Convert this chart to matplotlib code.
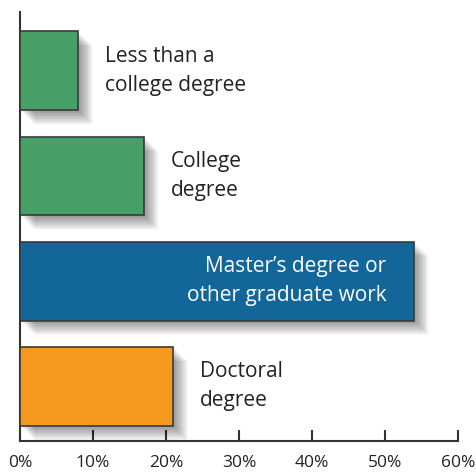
import matplotlib
matplotlib.use("Agg")
import matplotlib.pyplot as plt
import matplotlib.patheffects as pe
from matplotlib.ticker import FuncFormatter

categories = ["Less than a\ncollege degree", "College\ndegree",
              "Master\u2019s degree or\nother graduate work", "Doctoral\ndegree"]
values = [8, 17, 54, 21]
colors = ["#46a067", "#46a067", "#12669a", "#f7981f"]
xticks = [0, 10, 20, 30, 40, 50, 60]

plt.rcParams['font.family'] = ['Open Sans', 'DejaVu Sans']

fig = plt.figure(figsize=(4.77, 4.75), dpi=100)
ax = fig.add_axes([20/477, 34/475, 438/477, 429/475])

shadow = []
for k in range(1, 20):
    shadow.append(pe.SimplePatchShadow(offset=(k * 0.55, -k * 0.55), shadow_rgbFace='black', alpha=0.022))
shadow.append(pe.Normal())

ypos = list(range(len(values)))
bars = ax.barh(ypos, values, height=0.75, color=colors, edgecolor='#3a3a3a', linewidth=1.2, zorder=3)
for b in bars:
    b.set_path_effects(shadow)

for y, v, lab in zip(ypos, values, categories):
    if v > 40:
        ax.text(v - 3.8, y, lab, ha='right', va='center', fontsize=15, color='white',
                linespacing=1.5, zorder=5)
    else:
        ax.text(v + 3.6, y, lab, ha='left', va='center', fontsize=15, color='#222222',
                linespacing=1.5, zorder=5)

ax.set_xlim(0, 60)
ax.set_ylim(3.52, -0.56)
ax.set_xticks(xticks)
ax.xaxis.set_major_formatter(FuncFormatter(lambda x, p: f"{int(x)}%"))
ax.set_yticks([])
ax.tick_params(axis='x', direction='in', length=8, width=1.5, color='#333333',
               labelsize=12.5, labelcolor='#222222', pad=10)
for s in ['top', 'right']:
    ax.spines[s].set_visible(False)
for s in ['left', 'bottom']:
    ax.spines[s].set_linewidth(1.5)
    ax.spines[s].set_color('#333333')
ax.set_facecolor('none')

fig.savefig("out.png", dpi=100)
